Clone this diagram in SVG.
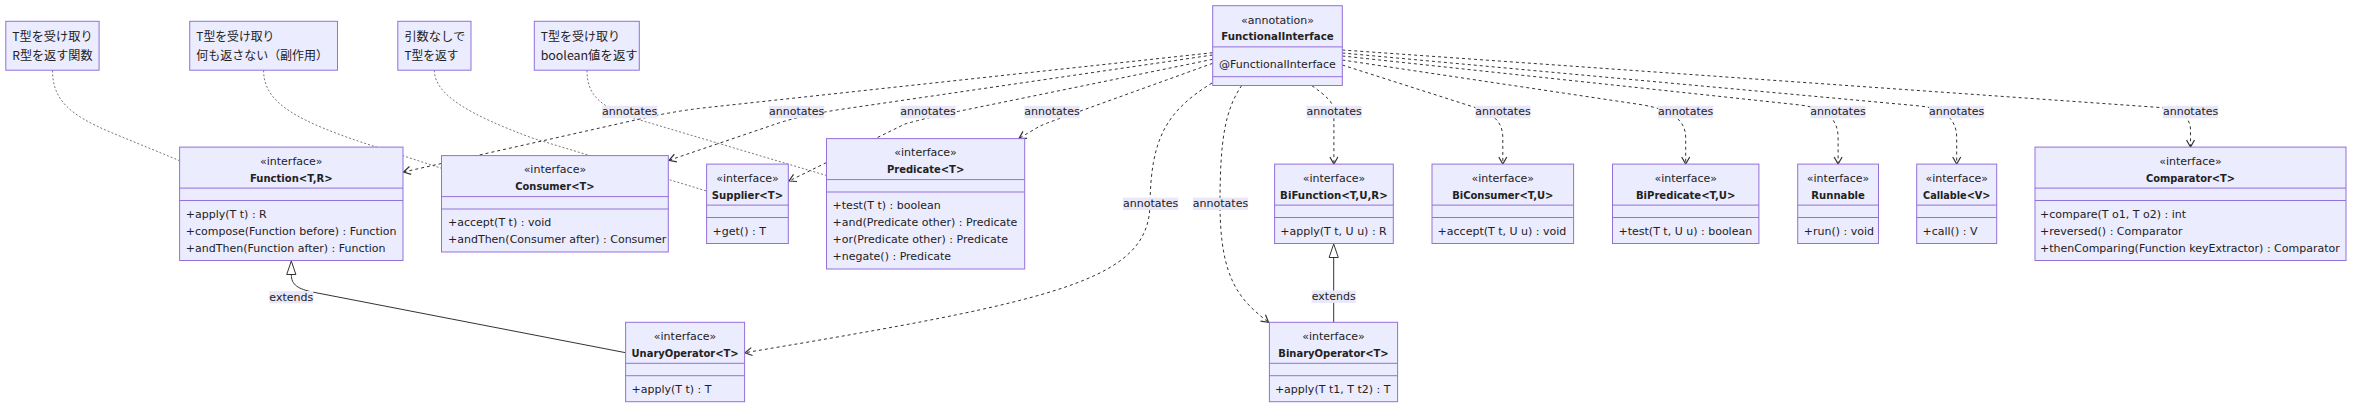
<svg xmlns="http://www.w3.org/2000/svg" width="2368" height="412" viewBox="0 0 2368 412">
<style>
.box{fill:#ECECFF;stroke:#9370DB;stroke-width:1}
.dv{stroke:#9370DB;stroke-width:1}
.t{font-family:"DejaVu Sans","Liberation Sans",sans-serif;font-size:11px;fill:#222}
.c{text-anchor:middle}
.b{font-weight:bold}
.nt{font-family:"Noto Sans CJK JP","DejaVu Sans",sans-serif;font-size:12px;fill:#222}
.dep{fill:none;stroke:#333;stroke-width:1;stroke-dasharray:3 3;marker-end:url(#arr)}
.nl{fill:none;stroke:#777;stroke-width:1;stroke-dasharray:2 2}
.ext{fill:none;stroke:#333;stroke-width:1}
.tri{fill:#fff;stroke:#333;stroke-width:1}
.lbg{fill:#E8E8F8}
</style>
<defs>
<marker id="arr" markerUnits="userSpaceOnUse" markerWidth="10" markerHeight="10" refX="8" refY="5" orient="auto">
<path d="M1,1 L8,5 L1,9" fill="none" stroke="#333" stroke-width="1.2"/>
</marker>
</defs>
<rect width="2368" height="412" fill="#fff"/>

<g id="connectors">
<path class="nl" d="M52.5,70.3 C52.5,100 70,115 110,132 L179.6,160.7"/>
<path class="nl" d="M263.6,70.3 C263.6,100 290,118 360,141.7 L441.5,168.3"/>
<path class="nl" d="M434.4,70.3 C434.4,95 470,115 533,138.3 L706.6,191"/>
<path class="nl" d="M587,70.3 C587,95 600,108 640,120 L826.5,175.5"/>
<path class="dep" d="M1212.7,52.7 L700,108.3 Q671.5,111.8 643,118.3 L403.5,172"/>
<path class="dep" d="M1212.7,55 L840,109.5 Q797,116 770,126 L669,160.3"/>
<path class="dep" d="M1212.7,59.3 L960,111 Q928,117.5 905,124 L789,181"/>
<path class="dep" d="M1212.7,63.3 L1075,113 Q1052,121 1040,126 L1019,138.4"/>
<path class="dep" d="M1212,83 C1165,112 1151,140 1150,204 C1149,280 1060,300 745,352.7"/>
<path class="dep" d="M1241.7,85.5 C1225,110 1220,140 1220,204 C1220,280 1240,300 1268.5,322.3"/>
<path class="dep" d="M1311.7,85.5 C1326,96 1333.9,102 1333.9,112 L1333.9,164"/>
<path class="dep" d="M1342.3,65 L1472,106.5 C1494,113.5 1502.8,122 1502.8,138 L1502.8,164"/>
<path class="dep" d="M1342.3,60 L1640,104.5 C1672,109.5 1685.7,120 1685.7,138 L1685.7,164"/>
<path class="dep" d="M1342.3,56 L1800,105 C1828,108.5 1838.1,120 1838.1,138 L1838.1,164"/>
<path class="dep" d="M1342.3,53 L1920,106 C1946,109 1956.7,120 1956.7,138 L1956.7,164"/>
<path class="dep" d="M1342.3,50 L2160,107.5 C2182,110 2190.5,118 2190.5,130 L2190.5,147"/>
<path class="ext" d="M625.6,352.7 L313.8,292.3 C298,289 291.3,285 291.3,274.5"/>
<polygon class="tri" points="291.3,261 286.7,274.5 295.9,274.5"/>
<path class="ext" d="M1333.7,322.3 L1333.7,257.5"/>
<polygon class="tri" points="1333.7,244 1329.1,257.5 1338.3,257.5"/>
</g>

<g id="note1">
<rect class="box" x="5.8" y="21.3" width="93.3" height="48.9"/>
<text class="nt" x="12.2" y="41.2" textLength="80.4" lengthAdjust="spacingAndGlyphs">T型を受け取り</text>
<text class="nt" x="12.2" y="60" textLength="80.4" lengthAdjust="spacingAndGlyphs">R型を返す関数</text>
</g>
<g id="note2">
<rect class="box" x="189.7" y="21.3" width="147.8" height="48.9"/>
<text class="nt" x="196.3" y="41.2" textLength="78.1" lengthAdjust="spacingAndGlyphs">T型を受け取り</text>
<text class="nt" x="196.3" y="60" textLength="131.7" lengthAdjust="spacingAndGlyphs">何も返さない（副作用）</text>
</g>
<g id="note3">
<rect class="box" x="397.8" y="21.3" width="73.2" height="48.9"/>
<text class="nt" x="404.4" y="41.2" textLength="60.7" lengthAdjust="spacingAndGlyphs">引数なしで</text>
<text class="nt" x="404.4" y="60" textLength="54" lengthAdjust="spacingAndGlyphs">T型を返す</text>
</g>
<g id="note4">
<rect class="box" x="534.3" y="21.3" width="105" height="48.9"/>
<text class="nt" x="540.7" y="41.2" textLength="79.3" lengthAdjust="spacingAndGlyphs">T型を受け取り</text>
<text class="nt" x="540.7" y="60" textLength="97" lengthAdjust="spacingAndGlyphs">boolean値を返す</text>
</g>

<g id="FunctionalInterface">
<rect class="box" x="1212.7" y="5.7" width="129.6" height="79.8"/>
<line class="dv" x1="1212.7" y1="46.9" x2="1342.3" y2="46.9"/>
<line class="dv" x1="1212.7" y1="76.7" x2="1342.3" y2="76.7"/>
<text class="t c" x="1277.5" y="23.5">«annotation»</text>
<text class="t c b" x="1277.5" y="40.3" textLength="112.3" lengthAdjust="spacingAndGlyphs">FunctionalInterface</text>
<text class="t" x="1219" y="67.8">@FunctionalInterface</text>
</g>

<g id="Function">
<rect class="box" x="179.6" y="147.1" width="223.4" height="113.4"/>
<line class="dv" x1="179.6" y1="188.1" x2="403" y2="188.1"/>
<line class="dv" x1="179.6" y1="200.5" x2="403" y2="200.5"/>
<text class="t c" x="291.3" y="164.9">«interface»</text>
<text class="t c b" x="291.3" y="181.7" textLength="82.7" lengthAdjust="spacingAndGlyphs">Function&lt;T,R&gt;</text>
<text class="t" x="185.8" y="217.5">+apply(T t) : R</text>
<text class="t" x="185.8" y="234.5">+compose(Function before) : Function</text>
<text class="t" x="185.8" y="251.5">+andThen(Function after) : Function</text>
</g>

<g id="Consumer">
<rect class="box" x="441.5" y="155.6" width="226.8" height="96.4"/>
<line class="dv" x1="441.5" y1="196.6" x2="668.3" y2="196.6"/>
<line class="dv" x1="441.5" y1="209" x2="668.3" y2="209"/>
<text class="t c" x="554.9" y="173.4">«interface»</text>
<text class="t c b" x="554.9" y="190.2" textLength="79.1" lengthAdjust="spacingAndGlyphs">Consumer&lt;T&gt;</text>
<text class="t" x="448" y="226">+accept(T t) : void</text>
<text class="t" x="448" y="243">+andThen(Consumer after) : Consumer</text>
</g>

<g id="Supplier">
<rect class="box" x="706.6" y="164.1" width="81.7" height="79.4"/>
<line class="dv" x1="706.6" y1="205.1" x2="788.3" y2="205.1"/>
<line class="dv" x1="706.6" y1="217.5" x2="788.3" y2="217.5"/>
<text class="t c" x="747.45" y="181.9">«interface»</text>
<text class="t c b" x="747.45" y="198.7" textLength="71.4" lengthAdjust="spacingAndGlyphs">Supplier&lt;T&gt;</text>
<text class="t" x="712.6" y="234.5">+get() : T</text>
</g>

<g id="Predicate">
<rect class="box" x="826.5" y="138.6" width="198.2" height="130.4"/>
<line class="dv" x1="826.5" y1="179.6" x2="1024.7" y2="179.6"/>
<line class="dv" x1="826.5" y1="192" x2="1024.7" y2="192"/>
<text class="t c" x="925.6" y="156.4">«interface»</text>
<text class="t c b" x="925.6" y="173.2" textLength="77.4" lengthAdjust="spacingAndGlyphs">Predicate&lt;T&gt;</text>
<text class="t" x="832.6" y="209">+test(T t) : boolean</text>
<text class="t" x="832.6" y="226">+and(Predicate other) : Predicate</text>
<text class="t" x="832.6" y="243">+or(Predicate other) : Predicate</text>
<text class="t" x="832.6" y="260">+negate() : Predicate</text>
</g>

<g id="BiFunction">
<rect class="box" x="1274.6" y="164.1" width="118.7" height="79.4"/>
<line class="dv" x1="1274.6" y1="205.1" x2="1393.3" y2="205.1"/>
<line class="dv" x1="1274.6" y1="217.5" x2="1393.3" y2="217.5"/>
<text class="t c" x="1333.95" y="181.9">«interface»</text>
<text class="t c b" x="1333.95" y="198.7" textLength="107.7" lengthAdjust="spacingAndGlyphs">BiFunction&lt;T,U,R&gt;</text>
<text class="t" x="1280.3" y="234.5">+apply(T t, U u) : R</text>
</g>

<g id="BiConsumer">
<rect class="box" x="1432" y="164.1" width="141.6" height="79.4"/>
<line class="dv" x1="1432" y1="205.1" x2="1573.6" y2="205.1"/>
<line class="dv" x1="1432" y1="217.5" x2="1573.6" y2="217.5"/>
<text class="t c" x="1502.8" y="181.9">«interface»</text>
<text class="t c b" x="1502.8" y="198.7" textLength="101.3" lengthAdjust="spacingAndGlyphs">BiConsumer&lt;T,U&gt;</text>
<text class="t" x="1437.6" y="234.5">+accept(T t, U u) : void</text>
</g>

<g id="BiPredicate">
<rect class="box" x="1612.5" y="164.1" width="146.4" height="79.4"/>
<line class="dv" x1="1612.5" y1="205.1" x2="1758.9" y2="205.1"/>
<line class="dv" x1="1612.5" y1="217.5" x2="1758.9" y2="217.5"/>
<text class="t c" x="1685.7" y="181.9">«interface»</text>
<text class="t c b" x="1685.7" y="198.7" textLength="99.5" lengthAdjust="spacingAndGlyphs">BiPredicate&lt;T,U&gt;</text>
<text class="t" x="1618.5" y="234.5">+test(T t, U u) : boolean</text>
</g>

<g id="Runnable">
<rect class="box" x="1797.7" y="164.1" width="80.8" height="79.4"/>
<line class="dv" x1="1797.7" y1="205.1" x2="1878.5" y2="205.1"/>
<line class="dv" x1="1797.7" y1="217.5" x2="1878.5" y2="217.5"/>
<text class="t c" x="1838.1" y="181.9">«interface»</text>
<text class="t c b" x="1838.1" y="198.7" textLength="53.6" lengthAdjust="spacingAndGlyphs">Runnable</text>
<text class="t" x="1803.8" y="234.5">+run() : void</text>
</g>

<g id="Callable">
<rect class="box" x="1916.7" y="164.1" width="80" height="79.4"/>
<line class="dv" x1="1916.7" y1="205.1" x2="1996.7" y2="205.1"/>
<line class="dv" x1="1916.7" y1="217.5" x2="1996.7" y2="217.5"/>
<text class="t c" x="1956.7" y="181.9">«interface»</text>
<text class="t c b" x="1956.7" y="198.7" textLength="67.3" lengthAdjust="spacingAndGlyphs">Callable&lt;V&gt;</text>
<text class="t" x="1922.5" y="234.5">+call() : V</text>
</g>

<g id="Comparator">
<rect class="box" x="2035" y="147.1" width="311" height="113.4"/>
<line class="dv" x1="2035" y1="188.1" x2="2346" y2="188.1"/>
<line class="dv" x1="2035" y1="200.5" x2="2346" y2="200.5"/>
<text class="t c" x="2190.5" y="164.9">«interface»</text>
<text class="t c b" x="2190.5" y="181.7" textLength="89" lengthAdjust="spacingAndGlyphs">Comparator&lt;T&gt;</text>
<text class="t" x="2040" y="217.5">+compare(T o1, T o2) : int</text>
<text class="t" x="2040" y="234.5">+reversed() : Comparator</text>
<text class="t" x="2040" y="251.5">+thenComparing(Function keyExtractor) : Comparator</text>
</g>

<g id="UnaryOperator">
<rect class="box" x="625.6" y="322.3" width="119" height="79.4"/>
<line class="dv" x1="625.6" y1="363.3" x2="744.6" y2="363.3"/>
<line class="dv" x1="625.6" y1="375.7" x2="744.6" y2="375.7"/>
<text class="t c" x="685.1" y="340.1">«interface»</text>
<text class="t c b" x="685.1" y="356.9" textLength="107.2" lengthAdjust="spacingAndGlyphs">UnaryOperator&lt;T&gt;</text>
<text class="t" x="631.5" y="392.7">+apply(T t) : T</text>
</g>

<g id="BinaryOperator">
<rect class="box" x="1269.4" y="322.3" width="128.2" height="79.4"/>
<line class="dv" x1="1269.4" y1="363.3" x2="1397.6" y2="363.3"/>
<line class="dv" x1="1269.4" y1="375.7" x2="1397.6" y2="375.7"/>
<text class="t c" x="1333.5" y="340.1">«interface»</text>
<text class="t c b" x="1333.5" y="356.9" textLength="110.4" lengthAdjust="spacingAndGlyphs">BinaryOperator&lt;T&gt;</text>
<text class="t" x="1274.9" y="392.7">+apply(T t1, T t2) : T</text>
</g>

<g id="edge-labels">
<rect class="lbg" x="602" y="105.8" width="55.3" height="12.4"/><text class="t c" x="629.7" y="115.4">annotates</text>
<rect class="lbg" x="769" y="105.8" width="55.3" height="12.4"/><text class="t c" x="796.7" y="115.4">annotates</text>
<rect class="lbg" x="900.3" y="105.8" width="55.3" height="12.4"/><text class="t c" x="928" y="115.4">annotates</text>
<rect class="lbg" x="1024.3" y="105.8" width="55.3" height="12.4"/><text class="t c" x="1052" y="115.4">annotates</text>
<rect class="lbg" x="1123" y="197.6" width="55.3" height="12.4"/><text class="t c" x="1150.7" y="207.2">annotates</text>
<rect class="lbg" x="1192.8" y="197.6" width="55.3" height="12.4"/><text class="t c" x="1220.5" y="207.2">annotates</text>
<rect class="lbg" x="1306.5" y="105.8" width="55.3" height="12.4"/><text class="t c" x="1334.2" y="115.4">annotates</text>
<rect class="lbg" x="1475.3" y="105.8" width="55.3" height="12.4"/><text class="t c" x="1503" y="115.4">annotates</text>
<rect class="lbg" x="1658" y="105.8" width="55.3" height="12.4"/><text class="t c" x="1685.6" y="115.4">annotates</text>
<rect class="lbg" x="1810.4" y="105.8" width="55.3" height="12.4"/><text class="t c" x="1838" y="115.4">annotates</text>
<rect class="lbg" x="1929" y="105.8" width="55.3" height="12.4"/><text class="t c" x="1956.7" y="115.4">annotates</text>
<rect class="lbg" x="2163" y="105.8" width="55.3" height="12.4"/><text class="t c" x="2190.6" y="115.4">annotates</text>
<rect class="lbg" x="269.3" y="291" width="44" height="12.4"/><text class="t c" x="291.3" y="300.6">extends</text>
<rect class="lbg" x="1311.7" y="290.5" width="44" height="12.4"/><text class="t c" x="1333.7" y="300.1">extends</text>
</g>
</svg>
